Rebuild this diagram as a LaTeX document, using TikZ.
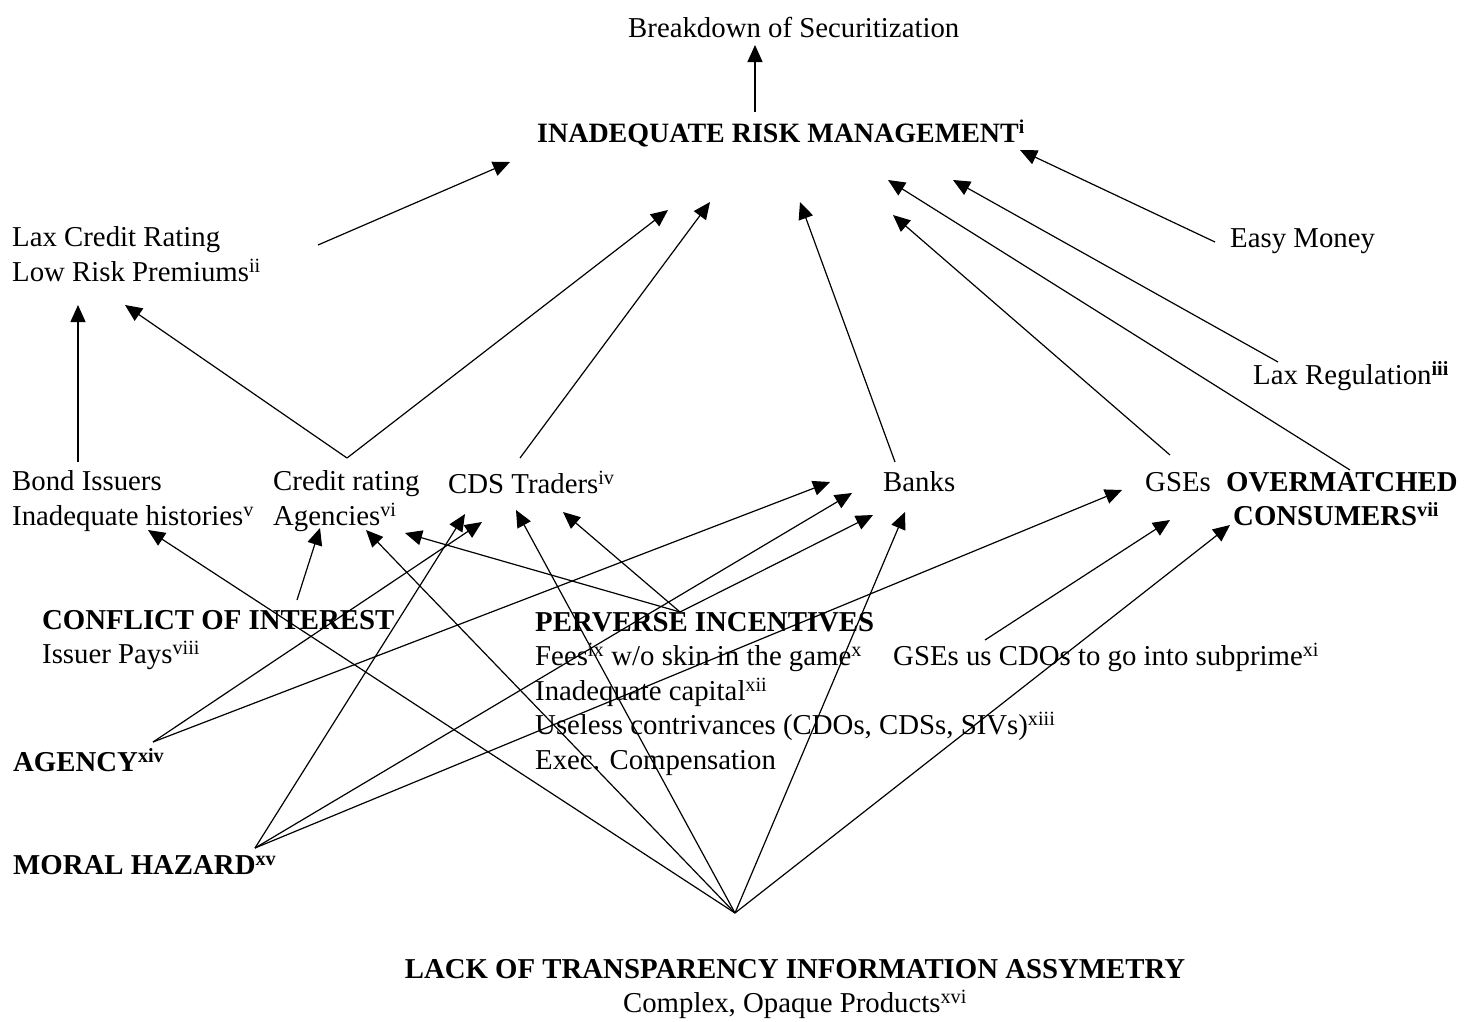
\documentclass[tikz,border=0pt]{standalone}
\usepackage{fontspec}
\setmainfont{Liberation Serif}
\usetikzlibrary{arrows.meta}

\begin{document}
\begin{tikzpicture}[x=1pt,y=-1pt,
  lbl/.style={anchor=west,inner sep=0pt,align=left,font=\fontsize{28.8}{34.5}\selectfont},
  blbl/.style={lbl,font=\fontsize{28.8}{34.5}\selectfont\bfseries},
  arr/.style={line width=1.2pt,-{Triangle[length=17pt,width=15pt]}}]

\useasboundingbox[fill=white] (0,0) rectangle (1464,1021);

% ---- labels ----
\node[lbl]  (brk)    at (628,27)  {Breakdown of Securitization};
\node[blbl,font=\fontsize{28}{34.5}\selectfont\bfseries] (irm) at (537,133)
  {INADEQUATE RISK MANAGEMENT\textsuperscript{i}};
\node[lbl]  (lax)    at (12,254)  {Lax Credit Rating\\Low Risk Premiums\textsuperscript{ii}};
\node[lbl]  (easy)   at (1230,241) {Easy Money};
\node[lbl]  (laxreg) at (1253,376) {Lax Regulation\textsuperscript{\bfseries iii}};
\node[lbl]  (bond)   at (12,501)  {Bond Issuers\\Inadequate histories\textsuperscript{v}};
\node[lbl]  (cra)    at (273,501) {Credit rating\\Agencies\textsuperscript{vi}};
\node[lbl]  (cds)    at (448,482) {CDS Traders\textsuperscript{iv}};
\node[lbl]  (banks)  at (883,482) {Banks};
\node[lbl]  (gses)   at (1145,482) {GSEs};
\node[blbl] (over)   at (1226,499) {OVERMATCHED\\\hspace*{7pt}CONSUMERS\textsuperscript{vii}};
\node[blbl] (coi)    at (42,640)  {CONFLICT OF INTEREST\\{\normalfont Issuer Pays\textsuperscript{viii}}};
\node[lbl]  (pi)     at (535,694) {\textbf{PERVERSE INCENTIVES}\\
  Fees\textsuperscript{ix} w/o skin in the game\textsuperscript{x}\\
  Inadequate capital\textsuperscript{xii}\\
  Useless contrivances (CDOs, CDSs, SIVs)\textsuperscript{xiii}\\
  Exec. Compensation};
\node[lbl]  (gsecdo) at (893,657) {GSEs us CDOs to go into subprime\textsuperscript{xi}};
\node[blbl] (agency) at (13,760)  {AGENCY\textsuperscript{xiv}};
\node[blbl] (mh)     at (13,865)  {MORAL HAZARD\textsuperscript{xv}};
\node[blbl,anchor=center,align=center] (lack) at (795,989)
  {LACK OF TRANSPARENCY INFORMATION ASSYMETRY\\
   {\normalfont Complex, Opaque Products\textsuperscript{xvi}}};

% ---- causes feeding inadequate risk management ----
\draw[arr] ([shift={(218,-21)}]irm.west) -- ([shift={(127,18)}]brk.west);
\draw[arr] ([shift={(306,-9)}]lax.west) -- ([shift={(-27,29)}]irm.west);
\draw[arr] ([shift={(74,-43)}]cra.west) -- ([shift={(113,51)}]lax.west);
\draw[arr] ([shift={(74,-43)}]cra.west) -- ([shift={(131,77)}]irm.west);
\draw[arr] ([shift={(72,-24)}]cds.west) -- ([shift={(173,69)}]irm.west);
\draw[arr] ([shift={(12,-20)}]banks.west) -- ([shift={(263,69)}]irm.west);
\draw[arr] ([shift={(25,-27)}]gses.west) -- ([shift={(356,82)}]irm.west);
\draw[arr] ([shift={(124,-29)}]over.west) -- ([shift={(351,47)}]irm.west);
\draw[arr] ([shift={(25,-14)}]laxreg.west) -- ([shift={(416,47)}]irm.west);
\draw[arr] ([shift={(-15,1)}]easy.west) -- ([shift={(483,17)}]irm.west);
\draw[arr] ([shift={(66,-39)}]bond.west) -- ([shift={(66,51)}]lax.west);

% ---- conflict of interest ----
\draw[arr] ([shift={(255,-40)}]coi.west) -- ([shift={(47,27)}]cra.west);

% ---- agency ----
\draw[arr] ([shift={(140,-18)}]agency.west) -- ([shift={(34,40)}]cds.west);
\draw[arr] ([shift={(140,-18)}]agency.west) -- ([shift={(-53,0)}]banks.west);

% ---- moral hazard ----
\draw[arr] ([shift={(242,-17)}]mh.west) -- ([shift={(17,32)}]cds.west);
\draw[arr] ([shift={(242,-17)}]mh.west) -- ([shift={(-31,11)}]banks.west);
\draw[arr] ([shift={(242,-17)}]mh.west) -- ([shift={(-23,8)}]gses.west);

% ---- perverse incentives ----
\draw[arr] ([shift={(145,-82)}]pi.west) -- ([shift={(132,32)}]cra.west);
\draw[arr] ([shift={(145,-82)}]pi.west) -- ([shift={(115,30)}]cds.west);
\draw[arr] ([shift={(145,-82)}]pi.west) -- ([shift={(-10,33)}]banks.west);

% ---- lack of transparency ----
\draw[arr] ([shift={(-60,-76)}]lack.center) -- ([shift={(136,29)}]bond.west);
\draw[arr] ([shift={(-60,-76)}]lack.center) -- ([shift={(93,29)}]cra.west);
\draw[arr] ([shift={(-60,-76)}]lack.center) -- ([shift={(68,28)}]cds.west);
\draw[arr] ([shift={(-60,-76)}]lack.center) -- ([shift={(22,30)}]banks.west);
\draw[arr] ([shift={(-60,-76)}]lack.center) -- ([shift={(4,26)}]over.west);

% ---- GSEs and CDOs ----
\draw[arr] ([shift={(92,-17)}]gsecdo.west) -- ([shift={(25,38)}]gses.west);

\end{tikzpicture}
\end{document}
